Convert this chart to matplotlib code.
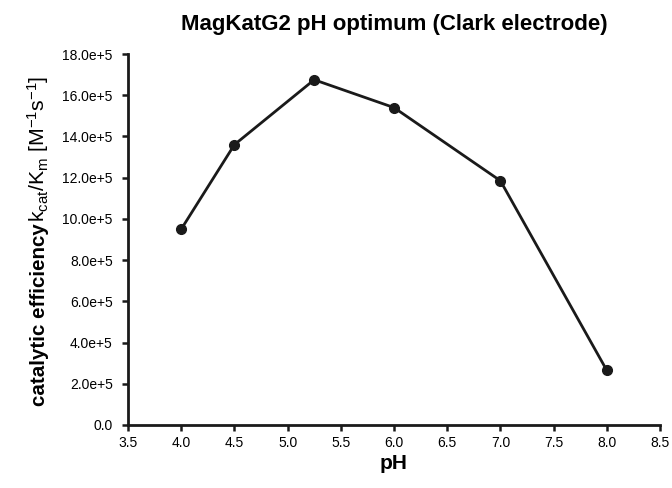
import matplotlib
matplotlib.use("Agg")
import matplotlib.pyplot as plt
from matplotlib.ticker import FuncFormatter, MultipleLocator

plt.rcParams['font.family'] = ['Liberation Sans', 'DejaVu Sans']
plt.rcParams['mathtext.fontset'] = 'custom'
plt.rcParams['mathtext.rm'] = 'Liberation Sans'
plt.rcParams['mathtext.it'] = 'Liberation Sans:italic'
plt.rcParams['mathtext.bf'] = 'Liberation Sans:bold'

ph = [4.0, 4.5, 5.25, 6.0, 7.0, 8.0]
efficiency = [9.5e5, 13.6e5, 16.75e5, 15.4e5, 11.85e5, 2.65e5]

W, H = 672, 488
fig = plt.figure(figsize=(W / 100, H / 100), dpi=100)
ax = fig.add_axes([128 / W, (H - 425) / H, (660 - 128) / W, (425 - 54) / H])

ax.plot(ph, efficiency, color='#1a1a1a', lw=2, marker='o', ms=7, mfc='#1a1a1a', mec='#1a1a1a')

ax.set_xlim(3.5, 8.5)
ax.set_ylim(0, 18e5)
ax.xaxis.set_major_locator(MultipleLocator(0.5))
ax.yaxis.set_major_locator(MultipleLocator(2e5))
ax.xaxis.set_major_formatter(FuncFormatter(lambda v, p: f"{v:.1f}"))
ax.yaxis.set_major_formatter(FuncFormatter(lambda v, p: "0.0" if v == 0 else f"{v/1e5:.1f}e+5"))

for s in ['top', 'right']:
    ax.spines[s].set_visible(False)
for s in ['left', 'bottom']:
    ax.spines[s].set_linewidth(2)
    ax.spines[s].set_color('#1a1a1a')
ax.tick_params(direction='out', length=4, width=1.8, color='#1a1a1a', labelsize=10)
ax.tick_params(axis='y', pad=7)
ax.tick_params(axis='x', pad=4)

ax.set_xlabel('pH', fontsize=15, fontweight='bold', labelpad=3)
ax.set_title('MagKatG2 pH optimum (Clark electrode)', fontsize=16, fontweight='bold', pad=17)

# y label in two parts: bold words, then regular formula
base_x = 45 / W
y0 = (H - 406) / H
t1 = fig.text(base_x, y0, 'catalytic efficiency', fontsize=14.8, fontweight='bold',
              rotation=90, rotation_mode='anchor', ha='left', va='baseline')
fig.canvas.draw()
ext = t1.get_window_extent(renderer=fig.canvas.get_renderer())
y1 = ext.y1 / H
fig.text(base_x, y1 + 1 / H, r'k$_{\mathrm{cat}}$/K$_{\mathrm{m}}$ [M$^{\mathrm{-1}}$s$^{\mathrm{-1}}$]',
         fontsize=15.3, rotation=90, rotation_mode='anchor', ha='left', va='baseline')

fig.savefig('out.png', dpi=100)
